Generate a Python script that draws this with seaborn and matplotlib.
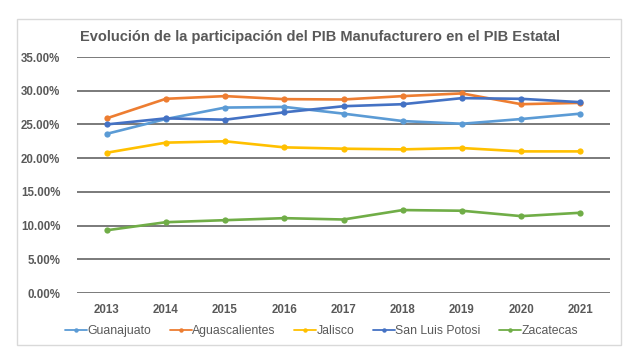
import matplotlib
matplotlib.use("Agg")
import matplotlib.pyplot as plt
import matplotlib.patches as mpatches
from matplotlib.ticker import FuncFormatter, MultipleLocator
import seaborn as sns
import pandas as pd

years = ["2013", "2014", "2015", "2016", "2017", "2018", "2019", "2020", "2021"]
guanajuato = [23.6, 25.8, 27.5, 27.6, 26.6, 25.5, 25.1, 25.8, 26.6]
aguascalientes = [25.9, 28.8, 29.2, 28.75, 28.7, 29.2, 29.6, 28.0, 28.2]
jalisco = [20.8, 22.3, 22.5, 21.6, 21.4, 21.3, 21.5, 21.0, 21.0]
san_luis = [25.0, 25.9, 25.7, 26.8, 27.7, 28.0, 28.9, 28.8, 28.3]
zacatecas = [9.3, 10.5, 10.8, 11.1, 10.9, 12.3, 12.2, 11.4, 11.9]

series_names = ["Guanajuato", "Aguascalientes", "Jalisco", "San Luis Potosi", "Zacatecas"]
series_vals = [guanajuato, aguascalientes, jalisco, san_luis, zacatecas]
colors = ["#5B9BD5", "#ED7D31", "#FFC000", "#4472C4", "#70AD47"]

rows = []
for name, vals in zip(series_names, series_vals):
    for i, (y, v) in enumerate(zip(years, vals)):
        rows.append({"idx": i, "year": y, "serie": name, "valor": v})
df = pd.DataFrame(rows)

sns.set_theme(style="white")
plt.rcParams["font.family"] = ["Liberation Sans", "DejaVu Sans"]

fig = plt.figure(figsize=(6.33, 3.57), dpi=100)
fig.patch.set_facecolor("white")
ax = fig.add_axes([77/633, 1-293/357, (610-77)/633, (293-57)/357])

sns.lineplot(data=df, x="idx", y="valor", hue="serie", hue_order=series_names,
             palette=colors, marker="o", markersize=4.5, markeredgewidth=0,
             linewidth=1.9, ax=ax, legend=False)

ax.set_xlim(-0.5, 8.5)
ax.set_ylim(0, 35)
ax.yaxis.set_major_locator(MultipleLocator(5))
ax.yaxis.set_major_formatter(FuncFormatter(lambda v, p: f"{v:.2f}%"))
ax.set_xticks(range(len(years)))
ax.set_xticklabels(years)
ax.set_xlabel("")
ax.set_ylabel("")
for s in ax.spines.values():
    s.set_visible(False)
ax.grid(axis="y", color="#6f6f6f", linewidth=1.3)
ax.set_axisbelow(True)
gl = ax.get_ygridlines()
gl[0].set_color("#e4e4e4")
gl[-1].set_color("#eeeeee")
ax.tick_params(axis="both", length=0, labelsize=8.3, labelcolor="#595959")
ax.tick_params(axis="y", pad=12)
ax.tick_params(axis="x", pad=8)
for lab in ax.get_xticklabels() + ax.get_yticklabels():
    lab.set_fontweight("bold")

fig.text(0.505, 1-37/357, "Evolución de la participación del PIB Manufacturero en el PIB Estatal",
         ha="center", va="center", fontsize=10.5, fontweight="bold", color="#595959")

handles = [plt.Line2D([], [], color=c, marker="o", markersize=3.2, markeredgewidth=0, linewidth=1.3)
           for c in colors]
fig.legend(handles, series_names, loc="center", bbox_to_anchor=(0.508, 1-331/357), ncol=5,
           frameon=False, fontsize=8.8, labelcolor="#595959", handlelength=1.8,
           handletextpad=0.05, columnspacing=1.5)

fig.add_artist(mpatches.Rectangle((17/633, 1-345/357), (621-17)/633, (345-19)/357,
                                  transform=fig.transFigure, fill=False,
                                  edgecolor="#d9d9d9", linewidth=1))

fig.savefig("out.png", dpi=100, facecolor="white")
